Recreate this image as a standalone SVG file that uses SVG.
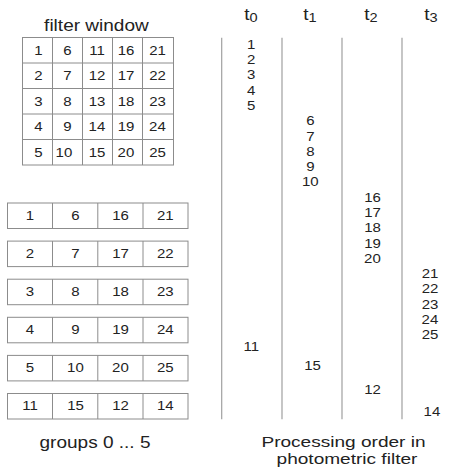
<svg xmlns="http://www.w3.org/2000/svg" width="460" height="470" viewBox="0 0 460 470">
<style>
text{font-family:"Liberation Sans",Arial,sans-serif;fill:#222;text-anchor:middle}
.s{transform-box:fill-box;transform-origin:center}
.n{font-size:12px;transform:scaleX(1.25)}
.lbl{font-size:17px;transform:scaleX(1.12)}
.lbl2{font-size:15.5px;transform:scaleX(1.23)}
.hdr{font-size:17px;transform:scaleX(1.12)}
.cell{fill:#fff;stroke:#8c8c8c;stroke-width:1}
.tl{stroke:#a0a0a0;stroke-width:1.2;fill:none}
</style>
<rect width="460" height="470" fill="#fff"/>

<g id="filter-window">
<text class="s lbl" x="96.5" y="31.5">filter window</text>
<g fill="none" stroke="#8c8c8c" stroke-width="1">
<rect x="22.5" y="37.5" width="151" height="127.5"/>
<path d="M52.5 37.5V165M82.5 37.5V165M112.5 37.5V165M142.5 37.5V165M22.5 63H173.5M22.5 88.5H173.5M22.5 114H173.5M22.5 139.5H173.5"/>
</g>
<g class="nums">
<text class="s n" x="38.5" y="55">1</text><text class="s n" x="67.5" y="55">6</text><text class="s n" x="97" y="55">11</text><text class="s n" x="126" y="55">16</text><text class="s n" x="157.5" y="55">21</text>
<text class="s n" x="38.5" y="80.5">2</text><text class="s n" x="67.5" y="80.5">7</text><text class="s n" x="97" y="80.5">12</text><text class="s n" x="126" y="80.5">17</text><text class="s n" x="157.5" y="80.5">22</text>
<text class="s n" x="38.5" y="106">3</text><text class="s n" x="67.5" y="106">8</text><text class="s n" x="97" y="106">13</text><text class="s n" x="126" y="106">18</text><text class="s n" x="157.5" y="106">23</text>
<text class="s n" x="38.5" y="131.5">4</text><text class="s n" x="67.5" y="131.5">9</text><text class="s n" x="97" y="131.5">14</text><text class="s n" x="126" y="131.5">19</text><text class="s n" x="157.5" y="131.5">24</text>
<text class="s n" x="38.5" y="157">5</text><text class="s n" x="64" y="157">10</text><text class="s n" x="97" y="157">15</text><text class="s n" x="126" y="157">20</text><text class="s n" x="157.5" y="157">25</text>
</g>
</g>

<g id="group-0">
<rect class="cell" x="7.5" y="203" width="180.5" height="25.5"/>
<path d="M52.5 203v25.5M97.8 203v25.5M143 203v25.5" stroke="#8c8c8c"/>
<text class="s n" x="30" y="220">1</text><text class="s n" x="75.5" y="220">6</text><text class="s n" x="120.5" y="220">16</text><text class="s n" x="165.3" y="220">21</text>
</g>
<g id="group-1">
<rect class="cell" x="7.5" y="241.1" width="180.5" height="25.5"/>
<path d="M52.5 241.1v25.5M97.8 241.1v25.5M143 241.1v25.5" stroke="#8c8c8c"/>
<text class="s n" x="30" y="258.1">2</text><text class="s n" x="75.5" y="258.1">7</text><text class="s n" x="120.5" y="258.1">17</text><text class="s n" x="165.3" y="258.1">22</text>
</g>
<g id="group-2">
<rect class="cell" x="7.5" y="279.2" width="180.5" height="25.5"/>
<path d="M52.5 279.2v25.5M97.8 279.2v25.5M143 279.2v25.5" stroke="#8c8c8c"/>
<text class="s n" x="30" y="296.2">3</text><text class="s n" x="75.5" y="296.2">8</text><text class="s n" x="120.5" y="296.2">18</text><text class="s n" x="165.3" y="296.2">23</text>
</g>
<g id="group-3">
<rect class="cell" x="7.5" y="317.3" width="180.5" height="25.5"/>
<path d="M52.5 317.3v25.5M97.8 317.3v25.5M143 317.3v25.5" stroke="#8c8c8c"/>
<text class="s n" x="30" y="334.3">4</text><text class="s n" x="75.5" y="334.3">9</text><text class="s n" x="120.5" y="334.3">19</text><text class="s n" x="165.3" y="334.3">24</text>
</g>
<g id="group-4">
<rect class="cell" x="7.5" y="355.4" width="180.5" height="25.5"/>
<path d="M52.5 355.4v25.5M97.8 355.4v25.5M143 355.4v25.5" stroke="#8c8c8c"/>
<text class="s n" x="30" y="372.4">5</text><text class="s n" x="75.5" y="372.4">10</text><text class="s n" x="120.5" y="372.4">20</text><text class="s n" x="165.3" y="372.4">25</text>
</g>
<g id="group-5">
<rect class="cell" x="7.5" y="393.5" width="180.5" height="25.5"/>
<path d="M52.5 393.5v25.5M97.8 393.5v25.5M143 393.5v25.5" stroke="#8c8c8c"/>
<text class="s n" x="30" y="410.5">11</text><text class="s n" x="75.5" y="410.5">15</text><text class="s n" x="120.5" y="410.5">12</text><text class="s n" x="165.3" y="410.5">14</text>
</g>
<text class="s lbl" x="95" y="448">groups 0 ... 5</text>

<g id="timelines">
<path class="tl" d="M221.7 37.7V419.3M282 37.7V419.3M342 37.7V419.3M402 37.7V419.3"/>
</g>

<g id="t0">
<text class="s hdr" x="251" y="20.5">t<tspan font-size="13" dy="1.5">0</tspan></text>
<text class="s n" x="251.3" y="49">1</text>
<text class="s n" x="251.3" y="64.2">2</text>
<text class="s n" x="251.3" y="79.4">3</text>
<text class="s n" x="251.3" y="94.6">4</text>
<text class="s n" x="251.3" y="109.8">5</text>
<text class="s n" x="251.3" y="350.7">11</text>
</g>
<g id="t1">
<text class="s hdr" x="310" y="20.5">t<tspan font-size="13" dy="1.5">1</tspan></text>
<text class="s n" x="310.5" y="125.5">6</text>
<text class="s n" x="310.5" y="140.7">7</text>
<text class="s n" x="310.5" y="155.9">8</text>
<text class="s n" x="310.5" y="171.1">9</text>
<text class="s n" x="310.3" y="186.3">10</text>
<text class="s n" x="312.5" y="370">15</text>
</g>
<g id="t2">
<text class="s hdr" x="371" y="20.5">t<tspan font-size="13" dy="1.5">2</tspan></text>
<text class="s n" x="372.5" y="202">16</text>
<text class="s n" x="372.5" y="217.2">17</text>
<text class="s n" x="372.5" y="232.4">18</text>
<text class="s n" x="372.5" y="247.6">19</text>
<text class="s n" x="372.5" y="262.8">20</text>
<text class="s n" x="372.5" y="394.3">12</text>
</g>
<g id="t3">
<text class="s hdr" x="431" y="20.5">t<tspan font-size="13" dy="1.5">3</tspan></text>
<text class="s n" x="430" y="278.3">21</text>
<text class="s n" x="430" y="293.5">22</text>
<text class="s n" x="430" y="308.7">23</text>
<text class="s n" x="430" y="323.9">24</text>
<text class="s n" x="430" y="339.1">25</text>
<text class="s n" x="432" y="416">14</text>
</g>

<text class="s lbl2" x="343.5" y="447">Processing order in</text>
<text class="s lbl2" x="347" y="464.5">photometric filter</text>
</svg>
